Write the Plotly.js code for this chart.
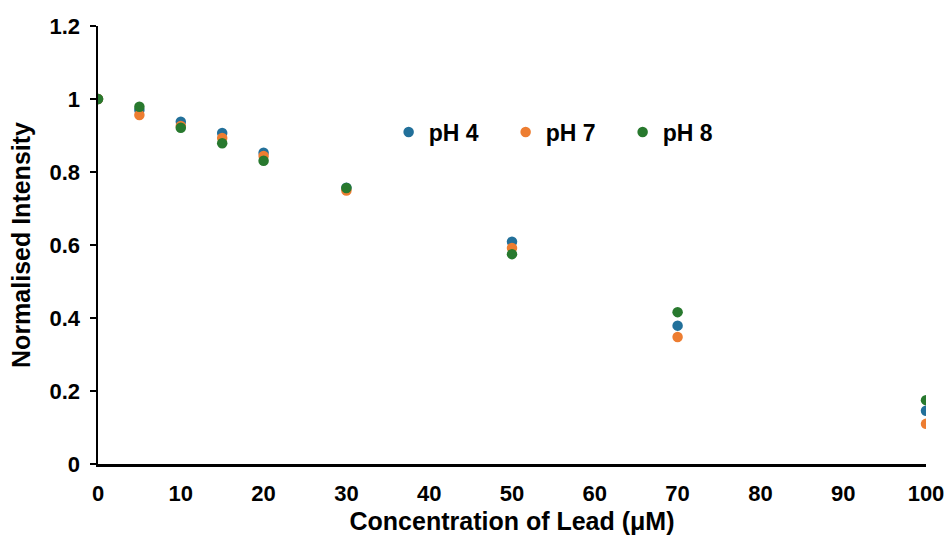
<!DOCTYPE html>
<html>
<head>
<meta charset="utf-8">
<script src="https://cdn.plot.ly/plotly-3.0.1.min.js"></script>
<style>html,body{margin:0;padding:0;background:#fff}#chart{width:948px;height:544px}</style>
</head>
<body>
<div id="chart"></div>
<script>
var concentration = [0, 5, 10, 15, 20, 30, 50, 70, 100];
var ph4 = [1.0, 0.970, 0.938, 0.907, 0.853, 0.757, 0.609, 0.379, 0.146];
var ph7 = [1.0, 0.956, 0.926, 0.893, 0.844, 0.749, 0.592, 0.348, 0.110];
var ph8 = [1.0, 0.979, 0.921, 0.879, 0.831, 0.756, 0.575, 0.416, 0.175];
var seriesNames = ['pH 4', 'pH 7', 'pH 8'];
var seriesColors = ['#22709A', '#ED7D31', '#28792E'];
var xTicks = [0, 10, 20, 30, 40, 50, 60, 70, 80, 90, 100];
var yTicks = [0, 0.2, 0.4, 0.6, 0.8, 1, 1.2];
var yTickText = ['0', '0.2', '0.4', '0.6', '0.8', '1', '1.2'];

var series = [ph4, ph7, ph8];
var traces = series.map(function (vals, i) {
  return {
    x: concentration, y: vals, type: 'scatter', mode: 'markers', name: seriesNames[i],
    marker: {color: seriesColors[i], size: 10.5}
  };
});

var layout = {
  width: 948, height: 544,
  margin: {l: 98, r: 22, t: 26, b: 80},
  paper_bgcolor: '#fff', plot_bgcolor: '#fff',
  font: {family: 'Liberation Sans, Arial, sans-serif', color: '#000'},
  showlegend: true,
  legend: {
    orientation: 'h', x: 0.351, y: 0.758, xanchor: 'left', yanchor: 'middle',
    font: {size: 23, weight: 'bold', color: '#000'},
    entrywidth: 72, entrywidthmode: 'pixels', bgcolor: 'rgba(0,0,0,0)'
  },
  xaxis: {
    range: [0, 100], tickvals: xTicks, ticks: '', showgrid: false, zeroline: false,
    showline: true, linecolor: '#000', linewidth: 2.5,
    tickfont: {size: 22, weight: 'bold'},
    ticklabelstandoff: 8,
    title: {text: 'Concentration of Lead (μM)', standoff: 8,
      font: {size: 25, weight: 'bold'}}
  },
  yaxis: {
    range: [0, 1.2], tickvals: yTicks, ticktext: yTickText, ticks: 'outside', ticklen: 6, tickwidth: 2, tickcolor: '#000',
    showgrid: false, zeroline: false, showline: true, linecolor: '#000', linewidth: 2.5,
    tickfont: {size: 22, weight: 'bold'}, ticklabelstandoff: 5,
    title: {text: 'Normalised Intensity', standoff: 12, font: {size: 25, weight: 'bold'}}
  }
};

Plotly.newPlot('chart', traces, layout, {displayModeBar: false, staticPlot: true});
</script>
</body>
</html>
